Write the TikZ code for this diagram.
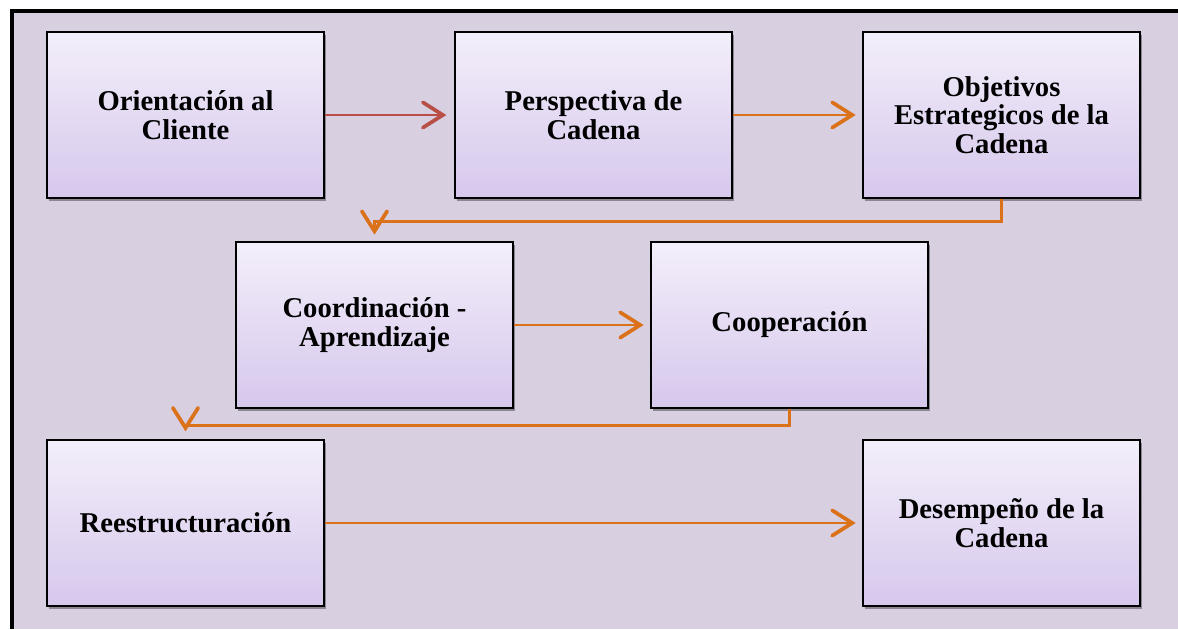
\documentclass[tikz,border=0pt]{standalone}
\usepackage{fontspec}
\setmainfont{Liberation Serif}
\usetikzlibrary{arrows.meta,shadows}
\definecolor{fondo}{RGB}{216,207,225}
\definecolor{cajatop}{RGB}{243,239,250}
\definecolor{cajabot}{RGB}{214,199,236}
\definecolor{rojizo}{RGB}{184,80,72}
\definecolor{naranja}{RGB}{219,114,26}
\begin{document}
\begin{tikzpicture}[x=0.75pt,y=-0.75pt,
		caja/.style={draw=black,line width=2pt,top color=cajatop,bottom color=cajabot,
			minimum width=207.75pt,minimum height=124.5pt,align=center,
			font=\fontsize{21.5}{21.5}\selectfont\bfseries,
			drop shadow={shadow xshift=1.5pt,shadow yshift=-2.5pt,opacity=0.35,fill=black}},
		flecha/.style={line width=2.2pt,-{Straight Barb[length=15pt,width=19pt,line width=2.8pt,line cap=round]}}]
		\useasboundingbox (0,0) rectangle (1178,629);
		\fill[white] (0,0) rectangle (1178,629);
		\fill[fondo] (11,11) rectangle (1178,629);
		\draw[line width=3pt] (1178,11) -- (11.5,11) -- (11.5,629);
		
		\node[caja] (cliente) at (185.5,115) {Orientación al\\Cliente};
		\node[caja] (perspectiva) at (593.5,115) {Perspectiva de\\Cadena};
		\node[caja] (objetivos) at (1001.5,115) {Objetivos\\Estrategicos de la\\Cadena};
		\node[caja] (coordinacion) at (374.5,325) {Coordinación -\\Aprendizaje};
		\node[caja] (cooperacion) at (789.5,325) {Cooperación};
		\node[caja] (reestructura) at (185.5,523) {Reestructuración};
		\node[caja] (desempeno) at (1001.5,523) {Desempeño de la\\Cadena};
		
		\draw [flecha,rojizo,shorten >=5.5pt] (cliente) -- (perspectiva);
		\draw [flecha,naranja,shorten >=4.5pt] (perspectiva) -- (objetivos);
		\draw [flecha,naranja] (objetivos.south) -- ++(0,22) -| ([yshift=4.5pt]coordinacion.north);
		\draw [flecha,naranja,shorten >=4.5pt] (coordinacion) -- (cooperacion);
		\draw [flecha,naranja] (cooperacion.south) -- ++(0,16) -| ([yshift=5.5pt]reestructura.north);
		\draw [flecha,naranja,shorten >=4.5pt] (reestructura) -- (desempeno);
\end{tikzpicture}
\end{document}
